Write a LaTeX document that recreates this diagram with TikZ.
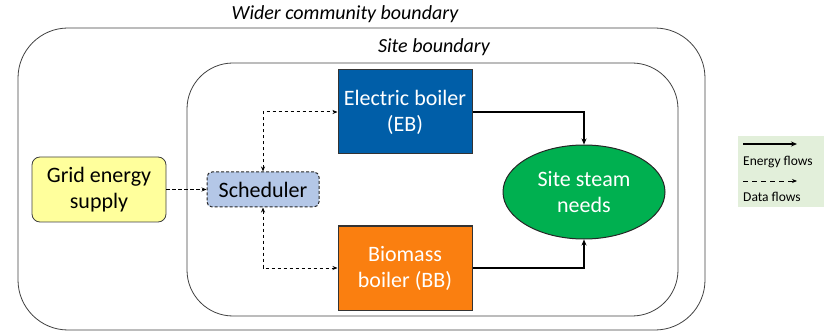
\documentclass[tikz,border=0pt]{standalone}
\usepackage{fontspec}
\setmainfont{Carlito}
\usetikzlibrary{shapes.geometric,arrows.meta}
\definecolor{ebblue}{RGB}{0,94,168}
\definecolor{bborange}{RGB}{250,127,16}
\definecolor{steamgreen}{RGB}{0,176,80}
\definecolor{gridyellow}{RGB}{255,255,156}
\definecolor{schedblue}{RGB}{180,199,231}
\definecolor{legendgreen}{RGB}{226,239,218}
\definecolor{edgegray}{RGB}{64,64,64}
\begin{document}
\begin{tikzpicture}[x=1pt,y=-1pt,
  boundary/.style={draw=edgegray,line width=0.8pt},
  mainfont/.style={font=\fontsize{22}{26}\selectfont},
  boilerbox/.style={draw=black!80,line width=1pt,minimum width=134pt,minimum height=84pt,
    text=white,align=center,mainfont,inner sep=0pt},
  energy/.style={line width=1.5pt,-{Stealth[length=6pt,width=5pt]}},
  data/.style={line width=1pt,dash pattern=on 3.5pt off 2.5pt,-{Stealth[length=5pt,width=4pt]}},
  databoth/.style={line width=1pt,dash pattern=on 3.5pt off 2.5pt,{Stealth[length=5pt,width=4pt]}-{Stealth[length=5pt,width=4pt]}},
  title/.style={font=\fontsize{20}{24}\selectfont\itshape},
  legendtext/.style={font=\fontsize{13.5}{16}\selectfont,anchor=west,inner sep=0pt}]
\useasboundingbox (0,0) rectangle (827,331);

% boundaries
\draw[boundary,rounded corners=50pt] (18,28) rectangle (705,330);
\draw[boundary,rounded corners=46pt] (187,63) rectangle (678,316);
\node[title] (widerlbl) at (345,14) {Wider community boundary};
\node[title] (sitelbl) at (434,47) {Site boundary};

% equipment
\node[boilerbox,fill=ebblue] (eb) at (405,112) {Electric boiler\\(EB)};
\node[boilerbox,fill=bborange] (bb) at (405,268) {Biomass\\boiler (BB)};
\node[ellipse,draw=black!85,line width=1pt,fill=steamgreen,minimum width=162pt,minimum height=94pt,
  text=white,align=center,mainfont,inner sep=0pt] (steam) at (584,192) {Site steam\\needs};
\node[draw=edgegray,line width=0.8pt,fill=gridyellow,rounded corners=8pt,minimum width=134pt,minimum height=65pt,
  align=center,mainfont,inner sep=0pt] (grid) at (99,189.5) {Grid energy\\supply};
\node[draw=black!85,line width=1pt,dash pattern=on 3pt off 2pt,fill=schedblue,rounded corners=5pt,
  minimum width=112pt,minimum height=35pt,mainfont,inner sep=0pt] (sched) at (263,189.5) {Scheduler};

% energy flows
\draw[energy] (eb.east) -| (steam.north);
\draw[energy] (bb.east) -| (steam.south);

% data flows
\draw[data] (grid.east) -- (sched.west);
\draw[databoth] (sched.north) |- (eb.west);
\draw[databoth] (sched.south) |- (bb.west);

% legend
\node[fill=legendgreen,minimum width=86pt,minimum height=71pt,inner sep=0pt] (legend) at (781,171.5) {};
\coordinate (e1) at (743,144);
\coordinate (e2) at (797,144);
\coordinate (d1) at (743,181);
\coordinate (d2) at (797,181);
\draw[energy,line width=1.3pt] (e1) -- (e2);
\draw[data,line width=0.8pt,dash pattern=on 5pt off 4pt] (d1) -- (d2);
\node[legendtext] (energylbl) at (743,162) {Energy flows};
\node[legendtext] (datalbl) at (743,197) {Data flows};
\end{tikzpicture}
\end{document}
